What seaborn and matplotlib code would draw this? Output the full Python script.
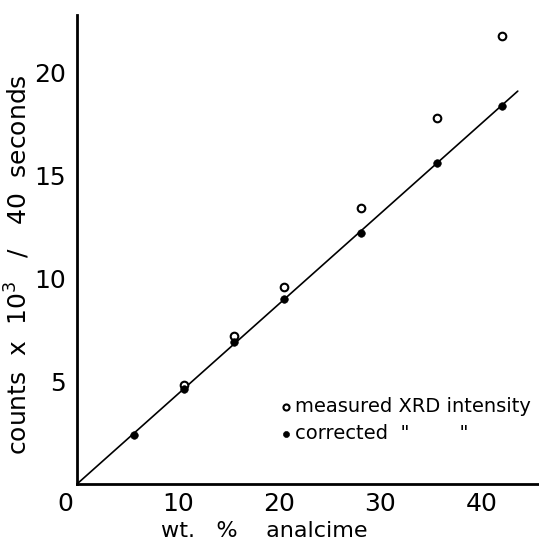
import matplotlib
matplotlib.use("Agg")
import matplotlib.pyplot as plt
import matplotlib.transforms as mtransforms
import seaborn as sns

# data
wt_corrected = [5.6, 10.6, 15.5, 20.5, 28.1, 35.6, 42.0]
counts_corrected = [2.4, 4.6, 6.9, 9.0, 12.2, 15.6, 18.4]
wt_measured = [10.6, 15.5, 20.5, 28.1, 35.6, 42.0]
counts_measured = [4.8, 7.2, 9.6, 13.4, 17.8, 21.8]
fit_x = [0.0, 43.6]
fit_y = [0.0, 19.1]
x_ticks = [0, 10, 20, 30, 40]
y_ticks = [5, 10, 15, 20]

sns.set_style("white")
plt.rcParams['font.family'] = ['DejaVu Sans']
plt.rcParams['text.color'] = 'black'
plt.rcParams['axes.labelcolor'] = 'black'

fig = plt.figure(figsize=(5.39, 5.41), dpi=100)
W, H = 539, 541
ax = fig.add_axes([77 / W, (H - 484) / H, (539 - 77) / W, (484 - 15) / H])

sns.lineplot(x=fit_x, y=fit_y, ax=ax, color="black", linewidth=1.2)
sns.scatterplot(x=wt_measured, y=counts_measured, ax=ax, marker="o",
                facecolor="white", edgecolor="black", linewidth=1.5, s=30,
                label="measured XRD intensity", zorder=3)
sns.scatterplot(x=wt_corrected, y=counts_corrected, ax=ax, marker="o",
                color="black", edgecolor="black", s=30,
                label='corrected  "        "', zorder=4)

ax.set_xlim(0, 45.7)
ax.set_ylim(0, 22.8)
ax.set_xticks(x_ticks)
ax.set_yticks(y_ticks)
ax.tick_params(direction="in", length=5, width=1.2, labelsize=18, pad=8,
               colors="black")
ax.tick_params(axis="x", pad=6)
for s in ["top", "right"]:
    ax.spines[s].set_visible(False)
for s in ["left", "bottom"]:
    ax.spines[s].set_linewidth(2)
    ax.spines[s].set_color("black")

# shift the "0" x tick label to the left like the reference
offset = mtransforms.ScaledTranslation(-12 / 100, 0, fig.dpi_scale_trans)
lbl0 = ax.get_xticklabels()[0]
lbl0.set_transform(lbl0.get_transform() + offset)

ax.set_xlabel("wt.   %    analcime", fontsize=16, labelpad=0)
ax.xaxis.set_label_coords(0.405, -0.078)
ax.set_ylabel("counts  x  10$^3$   /   40  seconds", fontsize=18)
ax.yaxis.set_label_coords(-0.097, 0.467)

leg = ax.legend(loc="lower right", bbox_to_anchor=(1.0, 0.07), frameon=False,
                fontsize=14, handletextpad=0.2, handlelength=0.6,
                borderaxespad=0, labelspacing=0.45, markerscale=0.8)

fig.savefig("out.png", dpi=100)
